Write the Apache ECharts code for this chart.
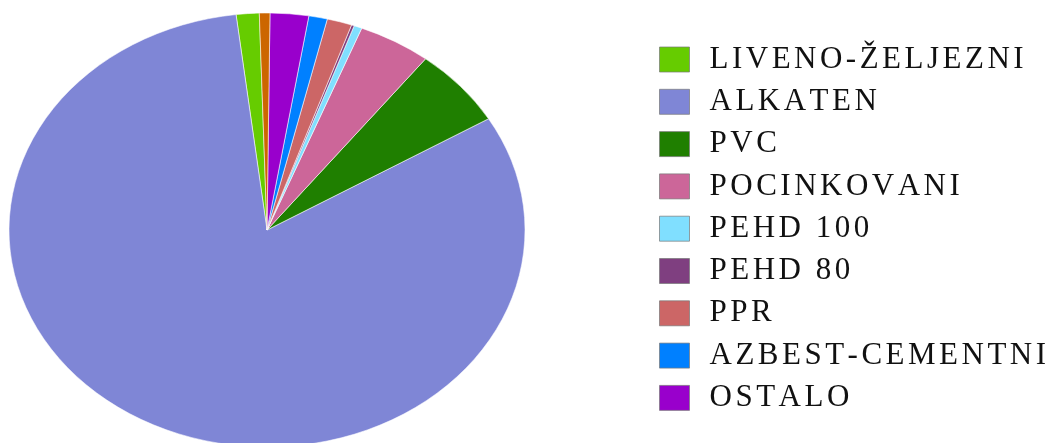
<!DOCTYPE html>
<html>
<head>
<meta charset="utf-8">
<script src="https://cdn.jsdelivr.net/npm/echarts@6/dist/echarts.min.js"></script>
<style>
  html, body { margin: 0; padding: 0; background: #fff; overflow: hidden; }
  #wrap { position: relative; width: 1051px; height: 443px; overflow: hidden; }
  #legendChart { position: absolute; left: 0; top: 0; width: 1051px; height: 443px; }
  #pieChart { position: absolute; left: 9px; top: -28px; width: 516px; height: 516px;
              transform: scaleY(0.8411); transform-origin: 258px 258px; }
</style>
</head>
<body>
<div id="wrap">
  <div id="pieChart"></div>
  <div id="legendChart"></div>
</div>
<script>
// Category names (data order, drawn counter-clockwise)
const categories = ['LIVENO-ŽELJEZNI', 'ALKATEN', 'PVC', 'POCINKOVANI', 'PEHD 100', 'PEHD 80', 'PPR', 'AZBEST-CEMENTNI', 'OSTALO', 'ČELIK'];
// Share of each category (%)
const values = [1.44, 81.66, 5.90, 4.55, 0.50, 0.17, 1.56, 1.16, 2.41, 0.66];
// Slice colours
const colors = ['#66cc00', '#7f86d6', '#1f7f00', '#cc6699', '#80dfff', '#7f3f80', '#cc6666', '#0080ff', '#9900cc', '#cc6600'];
// Categories listed in the legend
const legendNames = categories.slice(0, 9);

const LETTER_SPACING = 3.5;

// Letter-spaced text drawing for the legend canvas only
(function () {
  const proto = CanvasRenderingContext2D.prototype;
  const origFill = proto.fillText;
  proto.fillText = function (text, x, y, maxW) {
    const host = this.canvas && this.canvas.closest ? this.canvas.closest('#legendChart') : null;
    const align = this.textAlign;
    if (!host || typeof text !== 'string' || text.length < 2 || (align !== 'left' && align !== 'start')) {
      return origFill.apply(this, arguments);
    }
    let cx = x;
    for (const ch of text) {
      origFill.call(this, ch, cx, y);
      cx += this.measureText(ch).width + LETTER_SPACING;
    }
  };
})();

const seriesData = categories.map((n, i) => ({ name: n, value: values[i], itemStyle: { color: colors[i] } }));

const pie = echarts.init(document.getElementById('pieChart'), null, { renderer: 'svg' });
pie.setOption({
  animation: false,
  series: [{
    type: 'pie',
    center: [258, 258],
    radius: [0, 258],
    startAngle: 91.71,
    clockwise: false,
    minAngle: 0,
    avoidLabelOverlap: false,
    label: { show: false },
    labelLine: { show: false },
    emphasis: { disabled: true },
    itemStyle: { borderColor: '#ffffff', borderWidth: 0.6 },
    data: seriesData
  }]
});

const leg = echarts.init(document.getElementById('legendChart'), null, { renderer: 'canvas' });
leg.setOption({
  animation: false,
  legend: {
    orient: 'vertical',
    left: 654,
    top: 39,
    icon: 'rect',
    itemWidth: 30,
    itemHeight: 25,
    itemGap: 11.3,
    selectedMode: false,
    data: legendNames,
    itemStyle: { borderColor: 'rgba(120,120,120,0.7)', borderWidth: 1 },
    textStyle: {
      fontFamily: 'Liberation Serif',
      fontSize: 31,
      color: '#111',
      padding: [0, 0, 0, 15]
    }
  },
  series: [{
    type: 'pie',
    radius: [0, 0],
    silent: true,
    label: { show: false },
    labelLine: { show: false },
    data: seriesData
  }]
});
</script>
</body>
</html>
